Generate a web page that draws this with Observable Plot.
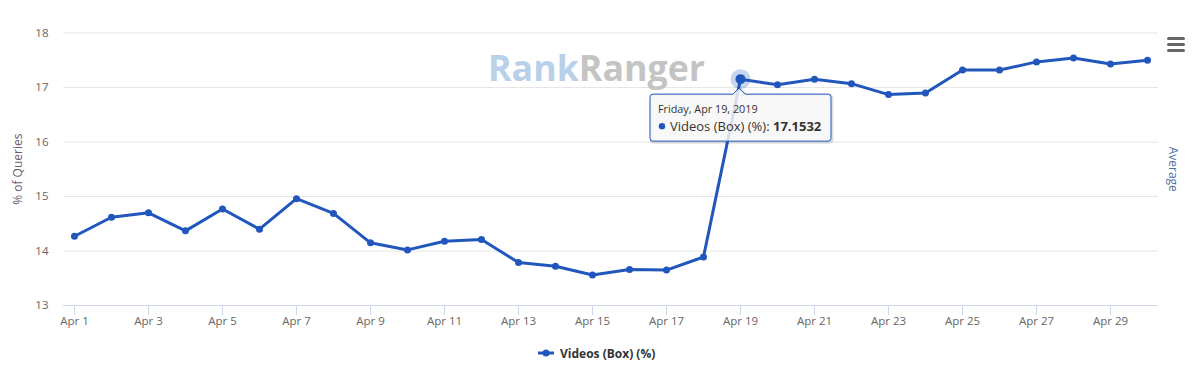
<!DOCTYPE html>
<html>
<head>
<meta charset="utf-8">
<script src="https://cdn.jsdelivr.net/npm/d3@7"></script>
<script src="https://cdn.jsdelivr.net/npm/@observablehq/plot@0.6"></script>
<style>
  html, body { margin: 0; padding: 0; background: #fff; }
  #wrap { position: relative; width: 1201px; height: 378px; font-family: "Open Sans", sans-serif; overflow: hidden; }
  #chart { position: absolute; left: 0; top: 0; }
  #overlay { position: absolute; left: 0; top: 0; pointer-events: none; }
  #legend { position: absolute; left: 0; top: 340px; width: 1201px; height: 38px; }
</style>
</head>
<body>
<div id="wrap">
  <div id="chart"></div>
  <svg id="overlay" width="1201" height="378"></svg>
  <div id="legend"></div>
</div>
<script>
// ---- data ----
const dates = [
  "2019-04-01","2019-04-02","2019-04-03","2019-04-04","2019-04-05","2019-04-06",
  "2019-04-07","2019-04-08","2019-04-09","2019-04-10","2019-04-11","2019-04-12",
  "2019-04-13","2019-04-14","2019-04-15","2019-04-16","2019-04-17","2019-04-18",
  "2019-04-19","2019-04-20","2019-04-21","2019-04-22","2019-04-23","2019-04-24",
  "2019-04-25","2019-04-26","2019-04-27","2019-04-28","2019-04-29","2019-04-30"
];
const values = [
  14.27, 14.62, 14.70, 14.37, 14.77, 14.40,
  14.96, 14.69, 14.15, 14.02, 14.18, 14.21,
  13.79, 13.72, 13.56, 13.66, 13.65, 13.89,
  17.1532, 17.05, 17.15, 17.07, 16.87, 16.90,
  17.32, 17.32, 17.47, 17.54, 17.43, 17.50
];
const seriesName = "Videos (Box) (%)";
const yTicks = [13, 14, 15, 16, 17, 18];
const xTickDates = ["2019-04-01","2019-04-03","2019-04-05","2019-04-07","2019-04-09","2019-04-11",
  "2019-04-13","2019-04-15","2019-04-17","2019-04-19","2019-04-21","2019-04-23",
  "2019-04-25","2019-04-27","2019-04-29"];
const yTitle = "% of Queries";
const yRightTitle = "Average";
const hoverIndex = 18;
const logoParts = ["Rank", "Ranger"];

// ---- styles ----
const color = "#2157bd";
const parse = d3.utcParse("%Y-%m-%d");
const data = dates.map((d, i) => ({date: parse(d), value: values[i]}));
const xTicks = xTickDates.map(parse);
const pad = 0.297 * 24 * 3600 * 1000;
const xDomain = [new Date(+data[0].date - pad), new Date(+data[data.length - 1].date + pad)];
const fmt = d3.utcFormat("%b %-d");

const plot = Plot.plot({
  width: 1201,
  height: 340,
  marginLeft: 63,
  marginRight: 43,
  marginTop: 32.5,
  marginBottom: 35,
  style: {fontFamily: "'Open Sans', sans-serif", fontSize: "11px", color: "#666", background: "transparent"},
  x: {type: "utc", domain: xDomain},
  y: {domain: [13, 18]},
  marks: [
    Plot.gridY(yTicks, {stroke: "#e6e6e6", strokeOpacity: 1}),
    Plot.ruleY([13], {stroke: "#ccd6eb"}),
    Plot.axisX(xTicks, {tickSize: 10, tickPadding: 1, stroke: "#ccd6eb", strokeOpacity: 1, fill: "#666", tickFormat: fmt, label: null, fontSize: 11.5}),
    Plot.axisY(yTicks, {tickSize: 0, tickPadding: 15, fill: "#666", label: null, fontSize: 11.5, tickFormat: d => String(d)}),
    Plot.text([yTitle], {frameAnchor: "left", textAnchor: "middle", rotate: -90, dx: -45, fill: "#6e5c6e", fontSize: 12}),
    Plot.text([yRightTitle], {frameAnchor: "right", textAnchor: "middle", rotate: 90, dx: 14, fill: "#4f6fa3", fontSize: 12}),
    Plot.dot([data[hoverIndex]], {x: "date", y: "value", r: 10, fill: color, fillOpacity: 0.25}),
    Plot.line(data, {x: "date", y: "value", stroke: color, strokeWidth: 3, strokeLinejoin: "round"}),
    Plot.dot(data, {x: "date", y: "value", r: 3.5, fill: color}),
    Plot.dot([data[hoverIndex]], {x: "date", y: "value", r: 5, fill: color})
  ]
});
document.getElementById("chart").appendChild(plot);

// ---- overlay: watermark, menu icon, tooltip ----
const ov = d3.select("#overlay");
const logo = ov.append("text")
  .attr("x", 488).attr("y", 80.5)
  .attr("font-family", "'Open Sans', sans-serif")
  .attr("font-weight", 700)
  .attr("font-size", 35)
  .attr("textLength", 217)
  .attr("lengthAdjust", "spacingAndGlyphs");
logo.append("tspan").attr("fill", "#b9d0ea").text(logoParts[0]);
logo.append("tspan").attr("fill", "#c4c4c4").text(logoParts[1]);

[38.5, 44.5, 50.5].forEach(y => {
  ov.append("line").attr("x1", 1168.5).attr("x2", 1183.5).attr("y1", y).attr("y2", y)
    .attr("stroke", "#666").attr("stroke-width", 3).attr("stroke-linecap", "round");
});

const sx = plot.scale("x"), sy = plot.scale("y");
const hp = data[hoverIndex];
const px = sx.apply(hp.date), py = sy.apply(hp.value);
const bx = px - 90, by = py + 15.5, bw = 181, bh = 47, r = 3;
const tipPath = `M${bx + r},${by} L${px - 7},${by} L${px - 1},${py + 9.5} L${px + 5},${by} L${bx + bw - r},${by} Q${bx + bw},${by} ${bx + bw},${by + r} L${bx + bw},${by + bh - r} Q${bx + bw},${by + bh} ${bx + bw - r},${by + bh} L${bx + r},${by + bh} Q${bx},${by + bh} ${bx},${by + bh - r} L${bx},${by + r} Q${bx},${by} ${bx + r},${by} Z`;
ov.append("path").attr("d", tipPath).attr("transform", "translate(1,1)")
  .attr("fill", "none").attr("stroke", "rgba(0,0,0,0.12)").attr("stroke-width", 3);
ov.append("path").attr("d", tipPath)
  .attr("fill", "rgba(247,247,247,0.85)").attr("stroke", color).attr("stroke-width", 1);
ov.append("text").attr("x", bx + 8).attr("y", by + 19)
  .attr("font-family", "'Open Sans', sans-serif").attr("font-size", 10.8).attr("fill", "#333")
  .text(d3.utcFormat("%A, %b %-d, %Y")(hp.date));
ov.append("circle").attr("cx", bx + 12).attr("cy", by + 32).attr("r", 3.2).attr("fill", color);
const t2 = ov.append("text").attr("x", bx + 20).attr("y", by + 36.5)
  .attr("font-family", "'Open Sans', sans-serif").attr("font-size", 13).attr("fill", "#333");
t2.append("tspan").text(seriesName + ": ");
t2.append("tspan").attr("font-weight", 700).text(String(hp.value));

// ---- legend ----
const lg = d3.select("#legend").append("svg").attr("width", 1201).attr("height", 38);
lg.append("line").attr("x1", 538).attr("x2", 554).attr("y1", 13).attr("y2", 13)
  .attr("stroke", color).attr("stroke-width", 3);
lg.append("circle").attr("cx", 546).attr("cy", 13).attr("r", 3.5).attr("fill", color);
lg.append("text").attr("x", 560).attr("y", 17.5)
  .attr("font-family", "'Open Sans', sans-serif").attr("font-size", 12).attr("font-weight", 700)
  .attr("fill", "#333").text(seriesName);
</script>
</body>
</html>
